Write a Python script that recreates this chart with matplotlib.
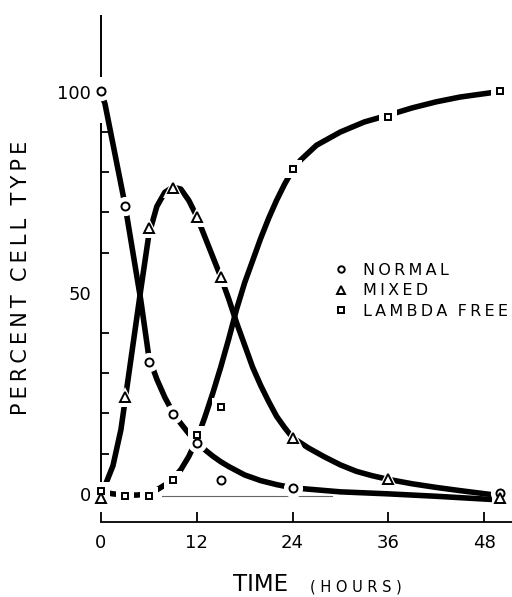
import matplotlib
matplotlib.use("Agg")
import matplotlib.pyplot as plt

# ---------------- data ----------------
x_ticks = [0, 12, 24, 36, 48]
y_ticks = [0, 50, 100]
y_minor_ticks = [10, 20, 30, 40, 50, 60, 70, 80, 90]

# measured points
normal_t = [0, 3, 6, 9, 12, 15, 24, 50]
normal_v = [100.2, 71.7, 32.9, 19.8, 12.6, 3.5, 1.4, 0.2]
mixed_t = [0, 3, 6, 9, 12, 15, 24, 36, 50]
mixed_v = [-1.0, 24.2, 66.0, 76.0, 68.8, 54.0, 13.9, 3.7, -1.0]
lambda_t = [0, 3, 6, 9, 12, 15, 24, 36, 50]
lambda_v = [0.8, -0.5, -0.5, 3.5, 14.6, 21.7, 80.8, 93.7, 100.2]

# hand-drawn smooth curves
normal_curve_t = [0, 0.5, 1, 2, 3, 4, 5, 6, 7, 8, 9, 10, 11, 12, 13, 14, 15, 16,
                  18, 20, 22, 24, 27, 30, 36, 42, 49]
normal_curve_v = [100, 97, 92, 82, 72, 60, 48, 34, 28.5, 24, 20.3, 17.5, 15, 12.8,
                  11, 9.4, 8, 6.8, 4.7, 3.3, 2.3, 1.5, 1.0, 0.5, 0, -0.6, -1.4]
mixed_curve_t = [0, 0.5, 1.5, 2.5, 3, 4, 5, 6, 7, 8, 9, 10, 11, 12, 13, 14, 15, 16,
                 17, 18, 19, 20, 21, 22, 23, 24, 26, 28, 30, 32, 34, 36, 39, 42,
                 45, 49]
mixed_curve_v = [-0.5, 2, 7, 16, 23, 37, 51, 64.5, 71.5, 75, 76.3, 75.8, 73, 69,
                 64, 59, 54, 48.5, 42.5, 37, 31.5, 27, 23, 19.3, 16.5, 14, 11.4,
                 9.2, 7.2, 5.6, 4.5, 3.6, 2.5, 1.6, 0.8, -0.2]
lambda_curve_t = [0, 1.5, 3, 4.5, 6, 7, 8, 9, 10, 11, 12, 13, 14, 15, 16, 17, 18,
                  19, 20, 21, 22, 23, 24, 25, 27, 30, 33, 36, 39, 42, 45, 49]
lambda_curve_v = [0.5, 0, -0.3, -0.3, 0, 1, 2.2, 3.8, 6, 9.3, 13.5, 19, 25, 31.5,
                  38.5, 46, 52.5, 58, 63.5, 68.5, 73, 77, 80.5, 83, 86.7, 90, 92.5,
                  94.2, 96, 97.5, 98.7, 99.8]

series_labels = ["NORMAL", "MIXED", "LAMBDA FREE"]
x_label_main = "TIME"
x_label_unit = "(HOURS)"
y_label = "PERCENT CELL TYPE"

# stray thin rule near the baseline in the original print
stray_t = [7.6, 29.0]
stray_v = [-0.6, -0.6]


def spaced(s, gap="\u2009"):
    words = s.split(" ")
    return ("  ").join(gap.join(w) for w in words)


plt.rcParams["font.family"] = ["DejaVu Sans"]

fig = plt.figure(figsize=(5.12, 5.97), dpi=100)
ax = fig.add_axes([101 / 512, 75 / 597, 411 / 512, 507 / 597])
ax.set_xlim(0, 51.5)
ax.set_ylim(-7, 119.1)

K = "black"
LW = 4.0

# curves
for t, v in [(normal_curve_t, normal_curve_v),
             (mixed_curve_t, mixed_curve_v),
             (lambda_curve_t, lambda_curve_v)]:
    ax.plot(t, v, color=K, lw=LW, solid_capstyle="butt", solid_joinstyle="round",
            zorder=2, clip_on=False)

ax.plot(stray_t, stray_v, color="#666666", lw=0.8, zorder=1)

# markers with white halo
specs = [(normal_t, normal_v, "o", 5.8),
         (mixed_t, mixed_v, "^", 6.6),
         (lambda_t, lambda_v, "s", 5.0)]
handles = []
for (t, v, m, ms), lab in zip(specs, series_labels):
    ax.plot(t, v, ls="none", marker=m, ms=ms + 8, mfc="white", mec="white",
            mew=0, zorder=3, clip_on=False)
    h, = ax.plot(t, v, ls="none", marker=m, ms=ms, mfc="white", mec=K, mew=1.4,
                 zorder=4, clip_on=False, label=spaced(lab))
    handles.append(h)

# axes styling
for s in ["top", "right", "left"]:
    ax.spines[s].set_visible(False)
ax.spines["bottom"].set_linewidth(1.3)

# left axis line, interrupted near the 100 mark as in the original
ax.plot([0, 0], [1.5, 92.3], color=K, lw=1.4, zorder=1, clip_on=False,
        solid_capstyle="butt")
ax.plot([0, 0], [103.7, 119.1], color=K, lw=1.4, zorder=1, clip_on=False,
        solid_capstyle="butt")

ax.set_xticks(x_ticks)
ax.set_xticklabels([str(v) for v in x_ticks])
ax.tick_params(axis="x", direction="in", length=7, width=1.3, pad=9,
               labelsize=13)

ax.set_yticks(y_ticks)
ax.set_yticklabels([str(v) for v in y_ticks])
ax.set_yticks(y_minor_ticks, minor=True)
ax.tick_params(axis="y", which="major", length=0, pad=7, labelsize=13)
ax.tick_params(axis="y", which="minor", direction="in", length=5.5, width=1.3)

# legend
leg = ax.legend(handles=handles, loc="upper left",
                bbox_to_anchor=(333.5 / 512, 1 - 263 / 597),
                bbox_transform=fig.transFigure, frameon=False, fontsize=11.5,
                handlelength=1.0, handletextpad=0.85, labelspacing=0.33,
                borderpad=0, borderaxespad=0, markerscale=0.8)

# axis titles
fig.text(21 / 512, 1 - 278 / 597, spaced(y_label), rotation=90, fontsize=15,
         ha="center", va="center")
fig.text(233 / 512, 1 - 591 / 597, x_label_main, fontsize=16.5, ha="left",
         va="baseline")
fig.text(310 / 512, 1 - 591 / 597, " ".join(x_label_unit), fontsize=10.5,
         ha="left", va="baseline")

fig.savefig("out.png", dpi=100)
